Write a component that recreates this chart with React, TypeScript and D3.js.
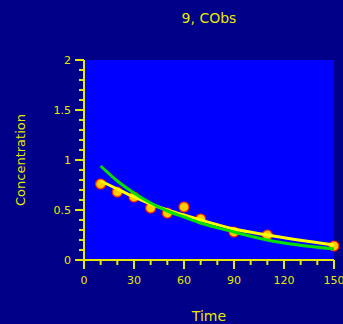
import React, { useEffect, useRef } from 'react';
import * as d3 from 'd3';

const obsTime = [10, 20, 30, 40, 50, 60, 70, 90, 110, 150];
const obsConc = [0.76, 0.68, 0.63, 0.52, 0.47, 0.53, 0.41, 0.28, 0.25, 0.14];
const predYellow = [0.79, 0.71, 0.63, 0.56, 0.5, 0.45, 0.4, 0.31, 0.25, 0.15];
const predGreen = [0.94, 0.79, 0.67, 0.57, 0.49, 0.43, 0.37, 0.28, 0.2, 0.11];
const xTicks = [0, 30, 60, 90, 120, 150];
const yTicks = [0, 0.5, 1, 1.5, 2];

const App = () => {
  const ref = useRef<SVGSVGElement>(null);

  useEffect(() => {
    const width = 343;
    const height = 324;
    const margin = { top: 60, right: 9, bottom: 64, left: 84 };
    const fg = '#e8e800';
    const font = 'DejaVu Sans, sans-serif';

    const svg = d3.select(ref.current);
    svg.selectAll('*').remove();

    svg.append('rect').attr('width', width).attr('height', height).attr('fill', '#000088');

    const x = d3.scaleLinear().domain([0, 150]).range([margin.left, width - margin.right]);
    const y = d3.scaleLinear().domain([0, 2]).range([height - margin.bottom, margin.top]);

    svg.append('rect')
      .attr('x', x(0)).attr('y', y(2))
      .attr('width', x(150) - x(0)).attr('height', y(0) - y(2))
      .attr('fill', '#0000ff');

    // minor ticks
    svg.append('g').selectAll('line')
      .data(d3.range(0, 2.001, 0.1))
      .join('line')
      .attr('x1', x(0) - 5).attr('x2', x(0))
      .attr('y1', d => y(d)).attr('y2', d => y(d))
      .attr('stroke', fg).attr('stroke-width', 2);
    svg.append('g').selectAll('line')
      .data(d3.range(0, 151, 10))
      .join('line')
      .attr('x1', d => x(d)).attr('x2', d => x(d))
      .attr('y1', y(0)).attr('y2', y(0) + 5)
      .attr('stroke', fg).attr('stroke-width', 2);

    // major ticks
    svg.append('g').selectAll('line')
      .data(yTicks)
      .join('line')
      .attr('x1', x(0) - 9).attr('x2', x(0))
      .attr('y1', d => y(d)).attr('y2', d => y(d))
      .attr('stroke', fg).attr('stroke-width', 2);
    svg.append('g').selectAll('line')
      .data(xTicks)
      .join('line')
      .attr('x1', d => x(d)).attr('x2', d => x(d))
      .attr('y1', y(0)).attr('y2', y(0) + 9)
      .attr('stroke', fg).attr('stroke-width', 2);

    // axis lines
    svg.append('line')
      .attr('x1', x(0)).attr('x2', x(0)).attr('y1', y(2)).attr('y2', y(0))
      .attr('stroke', fg).attr('stroke-width', 2);
    svg.append('line')
      .attr('x1', x(0)).attr('x2', x(150)).attr('y1', y(0)).attr('y2', y(0))
      .attr('stroke', fg).attr('stroke-width', 2);

    svg.append('g').selectAll('text')
      .data(yTicks)
      .join('text')
      .attr('x', x(0) - 13).attr('y', d => y(d) + 4)
      .attr('text-anchor', 'end')
      .attr('font-family', font).attr('font-size', 11).attr('fill', fg)
      .text(d => String(d));
    svg.append('g').selectAll('text')
      .data(xTicks)
      .join('text')
      .attr('x', d => x(d)).attr('y', y(0) + 24)
      .attr('text-anchor', 'middle')
      .attr('font-family', font).attr('font-size', 11).attr('fill', fg)
      .text(d => String(d));

    const points = obsTime.map((t, i) => ({ t, c: obsConc[i] }));

    svg.append('g').selectAll('circle')
      .data(points)
      .join('circle')
      .attr('cx', d => x(d.t)).attr('cy', d => y(d.c))
      .attr('r', 5)
      .attr('fill', '#ffcc00').attr('stroke', '#ff2000').attr('stroke-width', 1.2);

    const line = d3.line<number>()
      .x((_, i) => x(obsTime[i]))
      .y(d => y(d))
      .curve(d3.curveMonotoneX);

    svg.append('path')
      .datum(predYellow)
      .attr('fill', 'none').attr('stroke', '#ffff00').attr('stroke-width', 3)
      .attr('d', line);
    svg.append('path')
      .datum(predGreen)
      .attr('fill', 'none').attr('stroke', '#00e000').attr('stroke-width', 3)
      .attr('d', line);

    svg.append('text')
      .attr('x', (x(0) + x(150)) / 2).attr('y', 23)
      .attr('text-anchor', 'middle')
      .attr('font-family', font).attr('font-size', 14).attr('fill', fg)
      .text('9, CObs');

    svg.append('text')
      .attr('x', (x(0) + x(150)) / 2).attr('y', 321)
      .attr('text-anchor', 'middle')
      .attr('font-family', font).attr('font-size', 14).attr('fill', fg)
      .text('Time');

    svg.append('text')
      .attr('transform', `translate(25,${(y(0) + y(2)) / 2}) rotate(-90)`)
      .attr('text-anchor', 'middle')
      .attr('font-family', font).attr('font-size', 13).attr('fill', fg)
      .text('Concentration');
  }, []);

  return <svg ref={ref} width={343} height={324} style={{ position: 'absolute', left: 0, top: 0 }} />;
};

export default App;
